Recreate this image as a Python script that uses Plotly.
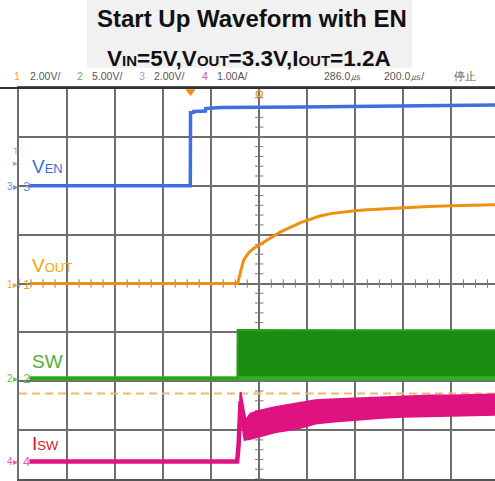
import plotly.graph_objects as go

# ---------------- data (oscilloscope units) ----------------
# time axis: microseconds after the EN rising edge (trigger point)
en_t = [-670, -1, 0, 12, 13, 62, 63, 125, 458, 874, 1269]
en_v = [0, 0, 2.99, 3.0, 3.04, 3.06, 3.16, 3.2, 3.22, 3.25, 3.3]

vout_t = [-670, 196, 208, 221, 241, 262, 287, 310, 333, 355, 375, 400, 429, 458, 487, 535, 583, 633, 683, 737, 791, 887, 990, 1086, 1269]
vout_v = [0, 0, 0.47, 0.96, 1.25, 1.43, 1.58, 1.73, 1.87, 2.0, 2.11, 2.24, 2.36, 2.49, 2.6, 2.75, 2.86, 2.93, 2.98, 3.02, 3.05, 3.11, 3.15, 3.18, 3.22]

sw_t = [-670, 195, 196, 400, 800, 1269]
sw_low = [0, 0, 0, 0, 0, 0]
sw_high = [0, 0, 4.95, 4.92, 4.92, 4.92]

isw_t = [-670, 194, 200, 208, 218, 229, 250, 283, 350, 445, 520, 600, 687, 800, 887, 1000, 1086, 1269]
isw_high = [0, 0, 0.64, 1.42, 1.15, 0.84, 0.98, 1.03, 1.11, 1.19, 1.25, 1.27, 1.29, 1.31, 1.33, 1.35, 1.35, 1.37]
isw_low = [0, 0, 0.33, 1.23, 0.84, 0.47, 0.49, 0.53, 0.62, 0.70, 0.80, 0.84, 0.88, 0.92, 0.94, 0.96, 0.96, 0.98]

# channel settings: volts (amps) per division and position offset in divisions
ch_scale = {"1": 2.0, "2": 5.0, "3": 2.0, "4": 1.0}
ch_offset = {"1": 0.0, "2": -1.94, "3": 2.0, "4": -3.64}
cursor_level = -2.25          # dashed cursor, divisions
time_div = 200.0              # µs/div
h_pos = 286.0                 # µs, screen centre relative to trigger

status_items = ["1", "2.00V/", "2", "5.00V/", "3", "2.00V/", "4", "1.00A/", "286.0㎲", "200.0㎲/", "停止"]

# ---------------- geometry helpers ----------------
W, H = 495, 481
L, T, B = 19, 88, 2
PW, PH = W - L, H - T - B


def px(x):
    return (x - L) / PW


def py(y):
    return (H - B - y) / PH


def to_div(vals, ch):
    return [ch_offset[ch] + v / ch_scale[ch] for v in vals]


x0 = h_pos - 5 * time_div
x1 = x0 + PW / 48.05 * time_div

fig = go.Figure()

# graticule minor ticks on the centre axes
hx = [h_pos + k * time_div / 4 for k in range(-20, 21)]
fig.add_trace(go.Scatter(x=hx, y=[0] * len(hx), mode="markers",
                         marker=dict(symbol="line-ns", size=6, line=dict(width=1, color="#7a7a7a")),
                         hoverinfo="skip"))
vy = [k * 0.2 for k in range(-20, 21)]
fig.add_trace(go.Scatter(x=[h_pos] * len(vy), y=vy, mode="markers",
                         marker=dict(symbol="line-ew", size=6, line=dict(width=1, color="#7a7a7a")),
                         hoverinfo="skip"))

# dashed cursor
fig.add_trace(go.Scatter(x=[x0, x1], y=[cursor_level, cursor_level], mode="lines",
                         line=dict(color="#f7b56e", width=2, dash="8px,5px"), hoverinfo="skip"))

# CH3 VEN
fig.add_trace(go.Scatter(x=en_t, y=to_div(en_v, "3"), mode="lines",
                         line=dict(color="#3f6fdc", width=3.5), hoverinfo="skip"))
# CH1 VOUT
fig.add_trace(go.Scatter(x=vout_t, y=to_div(vout_v, "1"), mode="lines",
                         line=dict(color="#ee9010", width=3), hoverinfo="skip"))
# CH2 SW envelope
fig.add_trace(go.Scatter(x=sw_t, y=to_div(sw_low, "2"), mode="lines",
                         line=dict(color="#33b024", width=4), hoverinfo="skip"))
fig.add_trace(go.Scatter(x=sw_t, y=to_div(sw_high, "2"), mode="lines", fill="tonexty",
                         fillcolor="#1b8c12", line=dict(color="#2a9e1c", width=2), hoverinfo="skip"))
# CH4 ISW envelope
fig.add_trace(go.Scatter(x=isw_t, y=to_div(isw_low, "4"), mode="lines",
                         line=dict(color="#de1280", width=4.5), hoverinfo="skip"))
fig.add_trace(go.Scatter(x=isw_t, y=to_div(isw_high, "4"), mode="lines", fill="tonexty",
                         fillcolor="#de1280", line=dict(color="#de1280", width=2), hoverinfo="skip"))

# trigger markers at top
fig.add_trace(go.Scatter(x=[0], y=[3.93], mode="markers", cliponaxis=False,
                         marker=dict(symbol="triangle-down", size=9, color="#f08a10"), hoverinfo="skip"))
fig.add_trace(go.Scatter(x=[h_pos], y=[3.88], mode="markers", cliponaxis=False,
                         marker=dict(symbol="circle-open", size=6, color="#f0a040", line=dict(width=1.5)),
                         hoverinfo="skip"))

ann = []
# title
tfont = "Liberation Sans Narrow, Arial Narrow, Liberation Sans"
ann.append(dict(x=px(252), y=py(18), xref="paper", yref="paper", showarrow=False,
                text="<b>Start Up Waveform with EN</b>", xanchor="center", yanchor="middle",
                font=dict(family=tfont, size=24, color="#111")))
sub = '<span style="font-size:15px">{}</span>'
ann.append(dict(x=px(249), y=py(59), xref="paper", yref="paper", showarrow=False,
                text="<b>V" + sub.format("IN") + "=5V,V" + sub.format("OUT") + "=3.3V,I" + sub.format("OUT") + "=1.2A</b>",
                xanchor="center", yanchor="middle",
                font=dict(family=tfont, size=22.5, color="#111")))

# status bar
status_x = [12, 28, 75, 90, 137, 152, 200, 215, 322, 382, 452]
status_c = ["#f0a030", "#555", "#5cb85c", "#555", "#9a9ae6", "#555", "#e040a0", "#555", "#555", "#555", "#555"]
for s, xx, cc in zip(status_items, status_x, status_c):
    ann.append(dict(x=px(xx), y=py(76), xref="paper", yref="paper", showarrow=False, text=s,
                    xanchor="left", yanchor="middle",
                    font=dict(family="Liberation Sans Narrow, Liberation Sans", size=10.5, color=cc)))

# trace labels
lab_font = "Liberation Sans, Arial"
small = '<span style="font-size:13px">{}</span>'
labels = [("V" + small.format("EN"), 30, 166, "#3d6fd9"),
          ("V" + small.format("OUT"), 30, 265, "#f5a500"),
          ("SW", 30, 361, "#52ae38"),
          ("I" + small.format("SW"), 30, 443, "#e0141e")]
for txt, xx, yy, cc in labels:
    ann.append(dict(x=px(xx), y=py(yy), xref="paper", yref="paper", showarrow=False, text=txt,
                    xanchor="left", yanchor="middle", font=dict(family=lab_font, size=19, color=cc)))

# channel markers at left
marks = [("3", 186, "#6b8fe0"), ("1", 284, "#f0a030"), ("2", 378, "#6cc05a"), ("4", 461, "#e060b0")]
for n, yy, cc in marks:
    ann.append(dict(x=px(5), y=py(yy), xref="paper", yref="paper", showarrow=False, text=n + "▸",
                    xanchor="left", yanchor="middle", font=dict(family="Liberation Sans", size=10, color=cc)))
    ann.append(dict(x=px(21), y=py(yy), xref="paper", yref="paper", showarrow=False, text=n,
                    xanchor="left", yanchor="middle", font=dict(family="Liberation Sans", size=13, color=cc)))
ann.append(dict(x=px(11), y=py(157), xref="paper", yref="paper", showarrow=False, text="T<br>▸",
                xanchor="left", yanchor="middle", font=dict(family="Liberation Sans", size=9, color="#8aa6e6")))

shapes = [
    dict(type="rect", xref="paper", yref="paper", x0=px(87), x1=px(412), y0=py(68), y1=py(0),
         fillcolor="#f1f1f1", line=dict(width=0), layer="below"),
    dict(type="line", xref="paper", yref="paper", x0=px(0), x1=1, y0=1, y1=1,
         line=dict(color="#333", width=2)),
]

fig.update_layout(
    width=W, height=H, autosize=False,
    margin=dict(l=L, r=0, t=T, b=B, pad=0),
    paper_bgcolor="white", plot_bgcolor="white",
    showlegend=False, hovermode=False,
    annotations=ann, shapes=shapes,
    xaxis=dict(range=[x0, x1], tickmode="linear", tick0=x0, dtick=time_div,
               showgrid=True, gridcolor="#6e6e6e", gridwidth=1.5, zeroline=False,
               showticklabels=False, ticks="", showline=True, linecolor="#555", linewidth=2, mirror=True),
    yaxis=dict(range=[-4, 4], tickmode="linear", tick0=-4, dtick=1,
               showgrid=True, gridcolor="#6e6e6e", gridwidth=1.5, zeroline=False,
               showticklabels=False, ticks="", showline=True, linecolor="#6e6e6e", linewidth=1.5, mirror=False),
)

fig.write_html("out.html", config={"displayModeBar": False},
               post_script="document.body.style.margin='0';document.body.style.padding='0';")
